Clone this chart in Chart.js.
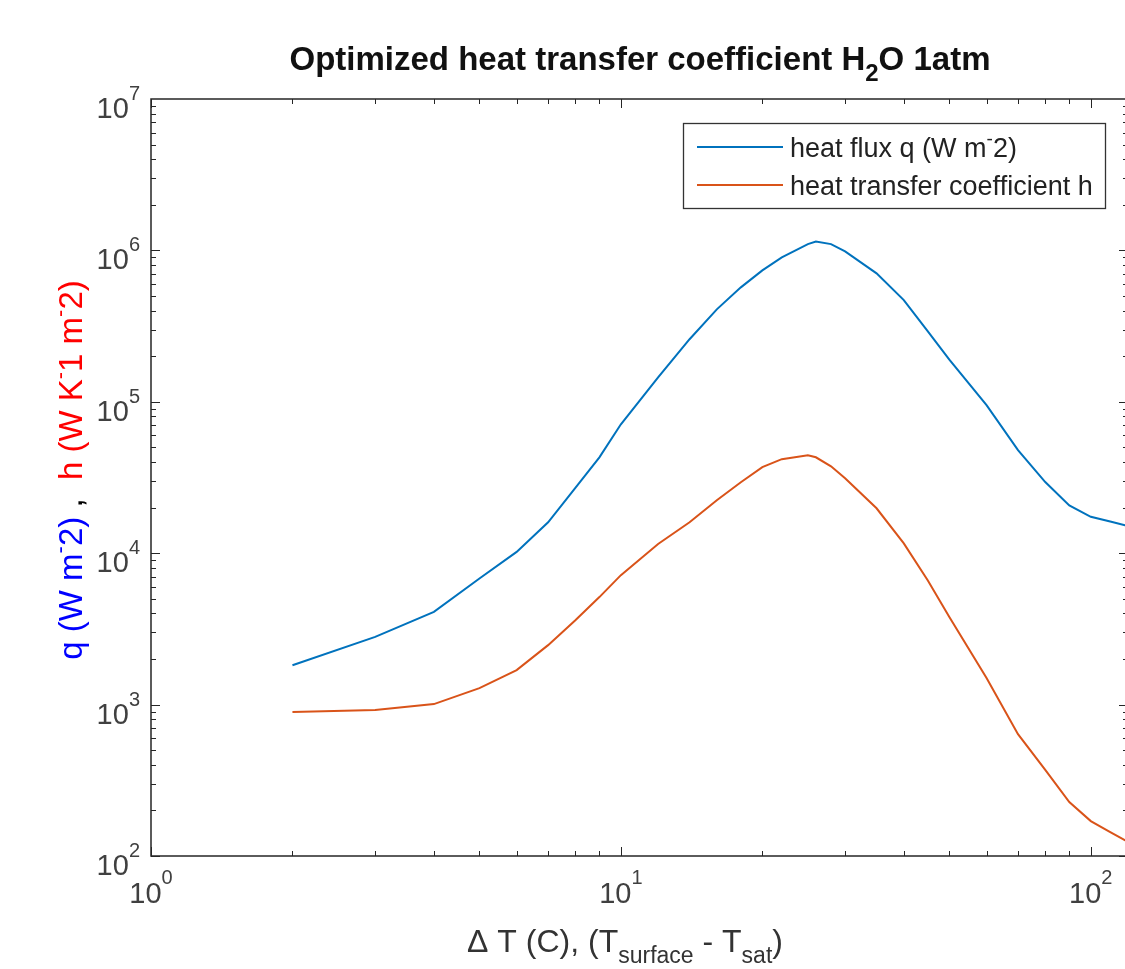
<!DOCTYPE html>
<html>
<head>
<meta charset="utf-8">
<script src="https://cdn.jsdelivr.net/npm/chart.js@4.4.1/dist/chart.umd.min.js"></script>
<style>
  html, body { margin: 0; padding: 0; background: #fff; overflow: hidden; }
  #wrap { width: 1135px; height: 969px; }
</style>
</head>
<body>
<div id="wrap"><canvas id="boilingChart" width="1135" height="969"></canvas></div>
<script>
// temperature excess (C) and the two curves
const deltaT = [2, 3, 4, 5, 6, 7, 8, 9, 10, 12, 14, 16, 18, 20, 22, 25, 26, 28, 30, 35, 40, 45, 50, 60, 70, 80, 90, 100, 110, 120];
const heatFlux = [1820, 2800, 4100, 6800, 10200, 16000, 27000, 43000, 71000, 145000, 259000, 408000, 570000, 738000, 899000, 1100000, 1146000, 1100000, 984000, 705000, 470000, 292000, 190000, 95000, 47900, 29500, 20700, 17400, 16200, 15100];
const heatCoeff = [892, 920, 1008, 1285, 1690, 2470, 3610, 5130, 7160, 11500, 16000, 22400, 29400, 37000, 41800, 44300, 43000, 37500, 31300, 19800, 11600, 6600, 3790, 1500, 638, 370, 227, 170, 144, 124];

const xTicks = [1, 10, 100];
const yTicks = [1e2, 1e3, 1e4, 1e5, 1e6, 1e7];

const seriesNames = ['heat flux q (W m', 'heat transfer coefficient h'];
const chartTitle = 'Optimized heat transfer coefficient H';

const FONT = '"Liberation Sans", Arial, Helvetica, sans-serif';
const AXIS_COLOR = '#262626';
const LABEL_COLOR = '#404040';
const BLUE = '#0072BD';
const ORANGE = '#D95319';

// draw a run of text pieces (normal / super / subscript) one after another
function drawRun(ctx, parts, x, y, align) {
    let total = 0;
    parts.forEach(p => {
        ctx.font = (p.bold ? 'bold ' : '') + p.size + 'px ' + FONT;
        p.w = ctx.measureText(p.t).width;
        total += p.w;
    });
    let cx = x;
    if (align === 'center') cx = x - total / 2;
    if (align === 'right') cx = x - total;
    ctx.textAlign = 'left';
    ctx.textBaseline = 'alphabetic';
    parts.forEach(p => {
        ctx.font = (p.bold ? 'bold ' : '') + p.size + 'px ' + FONT;
        ctx.fillStyle = p.color || AXIS_COLOR;
        ctx.fillText(p.t, cx, y + (p.dy || 0));
        cx += p.w;
    });
    return total;
}

function minorValues(min, max) {
    const out = [];
    for (let d = Math.pow(10, Math.floor(Math.log10(min))); d < max; d *= 10) {
        for (let m = 1; m < 10; m++) {
            const v = m * d;
            if (v >= min && v <= max) out.push({ v: v, major: m === 1 });
        }
    }
    return out;
}

const matlabAxes = {
    id: 'matlabAxes',
    afterDraw(chart) {
        const ctx = chart.ctx;
        const area = chart.chartArea;
        const xs = chart.scales.x;
        const ys = chart.scales.y;
        ctx.save();

        // box
        ctx.strokeStyle = AXIS_COLOR;
        ctx.lineWidth = 1.5;
        ctx.strokeRect(area.left, area.top, area.right - area.left, area.bottom - area.top);

        // inward ticks
        ctx.lineWidth = 1;
        ctx.beginPath();
        minorValues(ys.min, ys.max).forEach(t => {
            const py = Math.round(ys.getPixelForValue(t.v)) + 0.5;
            const len = t.major ? 9 : 5;
            ctx.moveTo(area.left, py); ctx.lineTo(area.left + len, py);
            ctx.moveTo(area.right, py); ctx.lineTo(area.right - len, py);
        });
        minorValues(xs.min, xs.max).forEach(t => {
            const px = Math.round(xs.getPixelForValue(t.v)) + 0.5;
            const len = t.major ? 9 : 5;
            ctx.moveTo(px, area.bottom); ctx.lineTo(px, area.bottom - len);
            ctx.moveTo(px, area.top); ctx.lineTo(px, area.top + len);
        });
        ctx.stroke();

        // tick labels 10^n
        yTicks.forEach(v => {
            const py = ys.getPixelForValue(v);
            const exp = String(Math.round(Math.log10(v)));
            ctx.font = '20px ' + FONT;
            const ew = ctx.measureText(exp).width;
            drawRun(ctx, [{ t: '10', size: 29, color: LABEL_COLOR }], 140 - ew, py + 19, 'right');
            drawRun(ctx, [{ t: exp, size: 20, color: LABEL_COLOR }], 140 - ew, py + 1, 'left');
        });
        xTicks.forEach(v => {
            const px = xs.getPixelForValue(v);
            const exp = String(Math.round(Math.log10(v)));
            drawRun(ctx, [
                { t: '10', size: 29, color: LABEL_COLOR },
                { t: exp, size: 20, dy: -19, color: LABEL_COLOR }
            ], px, 903, 'center');
        });

        // title
        drawRun(ctx, [
            { t: chartTitle, size: 33, bold: true, color: '#111' },
            { t: '2', size: 24, bold: true, dy: 11, color: '#111' },
            { t: 'O 1atm', size: 33, bold: true, color: '#111' }
        ], 640, 70, 'center');

        // x label
        drawRun(ctx, [
            { t: '\u0394 T (C), (T', size: 32, color: '#333' },
            { t: 'surface', size: 23, dy: 11, color: '#333' },
            { t: ' - T', size: 32, color: '#333' },
            { t: 'sat', size: 23, dy: 11, color: '#333' },
            { t: ')', size: 32, color: '#333' }
        ], 625, 952, 'center');

        // y label, rotated
        ctx.save();
        ctx.translate(82, 470);
        ctx.rotate(-Math.PI / 2);
        drawRun(ctx, [
            { t: 'q (W m', size: 33, color: '#0000FF' },
            { t: '-', size: 22, dy: -15, color: '#0000FF' },
            { t: '2)', size: 33, color: '#0000FF' },
            { t: ' ,  ', size: 33, color: '#000' },
            { t: 'h (W K', size: 33, color: '#FF0000' },
            { t: '-', size: 22, dy: -15, color: '#FF0000' },
            { t: '1 m', size: 33, color: '#FF0000' },
            { t: '-', size: 22, dy: -15, color: '#FF0000' },
            { t: '2)', size: 33, color: '#FF0000' }
        ], 0, 0, 'center');
        ctx.restore();

        // legend
        ctx.fillStyle = '#fff';
        ctx.fillRect(683, 123, 422, 85);
        ctx.strokeStyle = '#333';
        ctx.lineWidth = 1.3;
        ctx.strokeRect(683.5, 123.5, 422, 85);
        const rows = [
            { y: 147, color: BLUE, parts: [{ t: seriesNames[0], size: 27 }, { t: '-', size: 19, dy: -12 }, { t: '2)', size: 27 }] },
            { y: 185, color: ORANGE, parts: [{ t: seriesNames[1], size: 27 }] }
        ];
        rows.forEach(r => {
            ctx.strokeStyle = r.color;
            ctx.lineWidth = 2;
            ctx.beginPath();
            ctx.moveTo(697, r.y); ctx.lineTo(783, r.y);
            ctx.stroke();
            drawRun(ctx, r.parts.map(p => Object.assign({ color: '#222' }, p)), 790, r.y + 10, 'left');
        });

        ctx.restore();
    }
};

const ctx = document.getElementById('boilingChart').getContext('2d');
new Chart(ctx, {
    type: 'line',
    data: {
        datasets: [{
            label: seriesNames[0],
            data: deltaT.map((t, i) => ({ x: t, y: heatFlux[i] })),
            borderColor: BLUE,
            borderWidth: 2,
            pointRadius: 0,
            tension: 0
        }, {
            label: seriesNames[1],
            data: deltaT.map((t, i) => ({ x: t, y: heatCoeff[i] })),
            borderColor: ORANGE,
            borderWidth: 2,
            pointRadius: 0,
            tension: 0
        }]
    },
    options: {
        responsive: false,
        animation: false,
        layout: { padding: { left: 151, top: 99, right: 7, bottom: 113 } },
        plugins: {
            legend: { display: false },
            title: { display: false },
            tooltip: { enabled: false }
        },
        scales: {
            x: { type: 'logarithmic', min: 1, max: 120, display: false },
            y: { type: 'logarithmic', min: 100, max: 1e7, display: false }
        }
    },
    plugins: [matlabAxes]
});
</script>
</body>
</html>
